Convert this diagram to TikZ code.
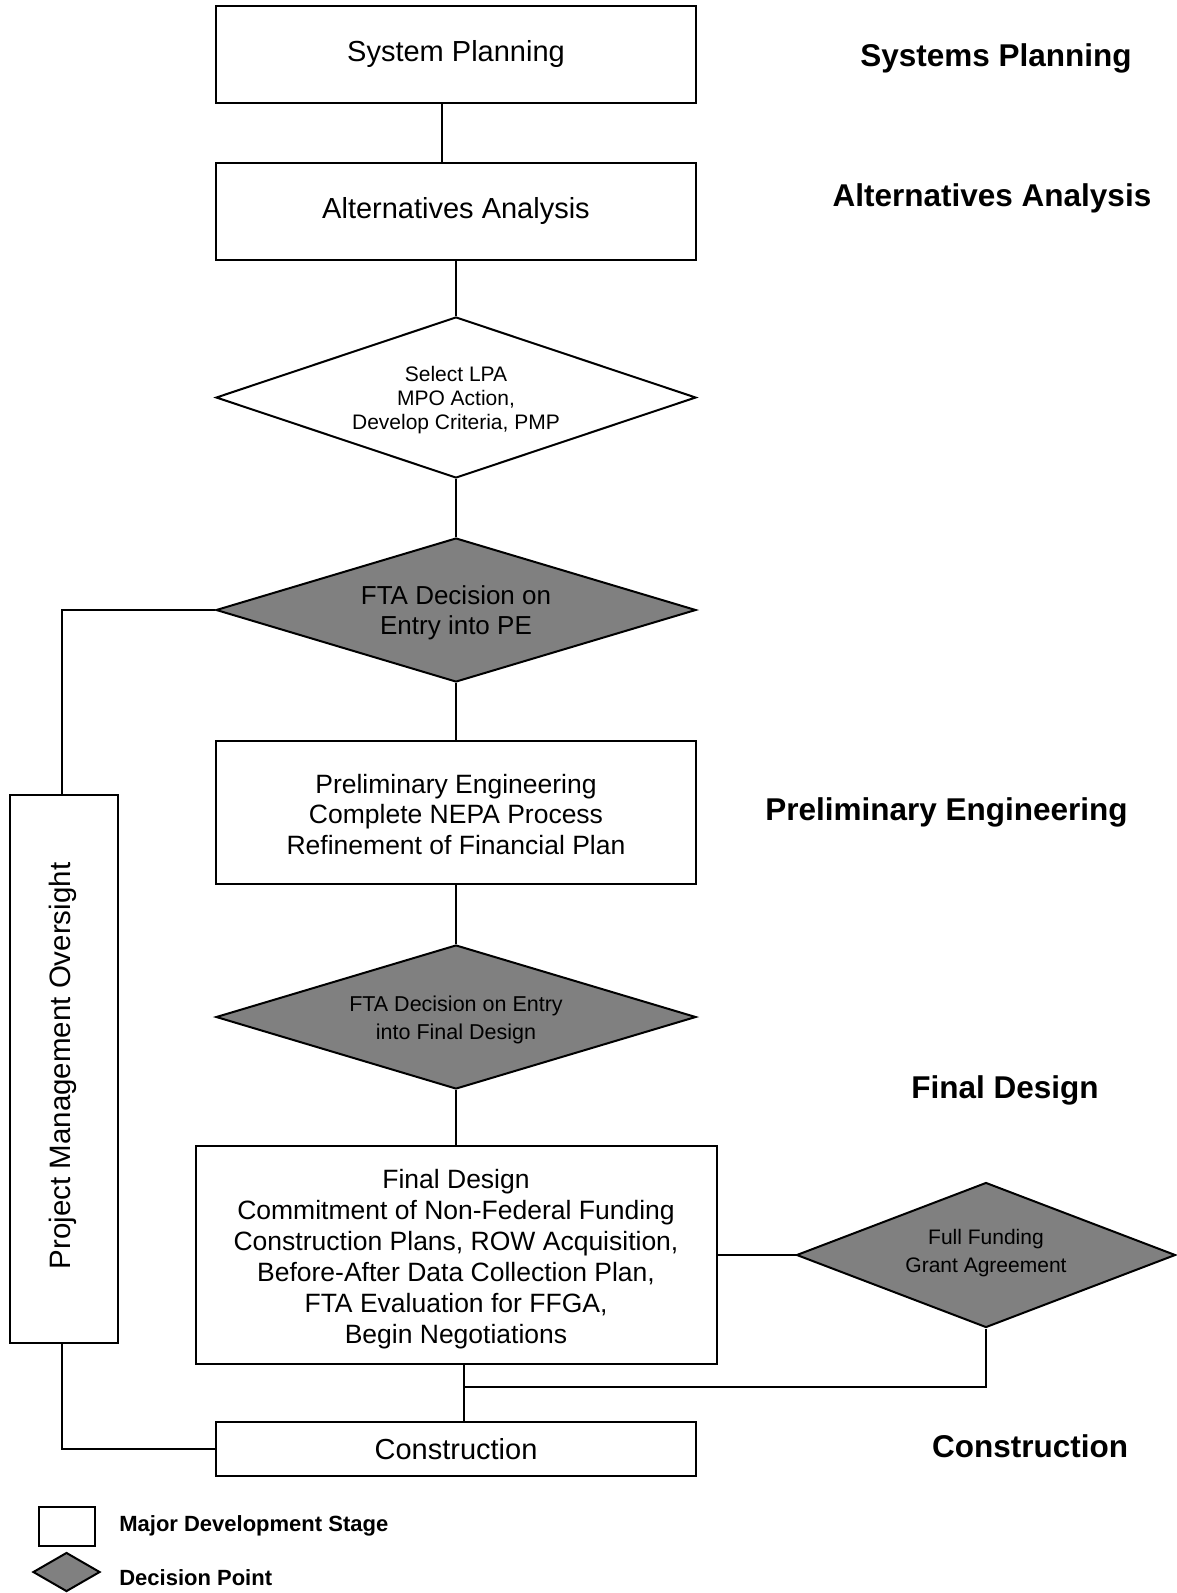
\documentclass[tikz,border=0pt]{standalone}
\usepackage{fontspec}
\setmainfont{Liberation Sans}
\usetikzlibrary{shapes.geometric}
\definecolor{decgray}{RGB}{128,128,128}
\newcommand{\fsz}[2]{\fontsize{#1}{#2}\selectfont}
\begin{document}
\begin{tikzpicture}[x=1pt,y=-1pt,line width=2pt,
  stagebox/.style={draw,rectangle,inner sep=0pt,align=center,minimum width=480pt},
  decnode/.style={draw,diamond,inner sep=0pt,fill=decgray},
  dectext/.style={align=center,inner sep=0pt},
  phase/.style={font=\bfseries\fsz{31.5}{36}},
  legendtext/.style={anchor=base west,font=\bfseries\fsz{22}{26}}]

\useasboundingbox (0,0) rectangle (1177,1593);

% main flow
\node[stagebox,minimum height=97pt,font=\fsz{29}{34}] (sp) at (456,54) {System Planning};
\node[stagebox,minimum height=97pt,font=\fsz{29}{34}] (aa) at (456,211) {Alternatives Analysis};
\node[draw,diamond,inner sep=0pt,minimum width=480pt,minimum height=161pt,fill=white] (d1) at (456,397.5) {};
\node[dectext,font=\fsz{21}{24}] (d1t) at ([yshift=-3pt]d1.center) {Select LPA\\MPO Action,\\Develop Criteria, PMP};
\node[decnode,minimum width=480pt,minimum height=144pt] (d2) at (456,610) {};
\node[dectext,font=\fsz{26}{30.5}] (d2t) at ([yshift=-3pt]d2.center) {FTA Decision on\\Entry into PE};
\node[stagebox,minimum height=142.5pt] (pe) at (456,812.5) {};
\node[dectext,font=\fsz{26.5}{30.5}] (pet) at ([yshift=-2pt]pe.center) {Preliminary Engineering\\Complete NEPA Process\\Refinement of Financial Plan};
\node[decnode,minimum width=480pt,minimum height=144pt] (d3) at (456,1017) {};
\node[dectext,font=\fsz{21.5}{28}] (d3t) at ([yshift=-3pt]d3.center) {FTA Decision on Entry\\into Final Design};
\node[stagebox,minimum width=521pt,minimum height=218.5pt] (fd) at (456,1255) {};
\node[dectext,font=\fsz{26.5}{31}] (fdt) at ([yshift=-4pt]fd.center) {Final Design\\Commitment of Non-Federal Funding\\Construction Plans, ROW Acquisition,\\Before-After Data Collection Plan,\\FTA Evaluation for FFGA,\\Begin Negotiations};
\node[decnode,minimum width=379pt,minimum height=145pt] (ff) at (986,1255) {};
\node[dectext,font=\fsz{21}{28}] (fft) at ([yshift=2pt]ff.center) {Full Funding\\Grant Agreement};
\node[stagebox,minimum height=54pt,font=\fsz{29}{34}] (con) at (456,1449) {Construction};
\node[draw,rectangle,inner sep=0pt,minimum width=108pt,minimum height=548pt] (pmo) at (64,1069) {};
\node[rotate=90,font=\fsz{29.5}{34}] (pmot) at (63,1066) {Project Management Oversight};

% phase labels
\node[phase] (l1) at (996,58) {Systems Planning};
\node[phase] (l2) at (992,198) {Alternatives Analysis};
\node[phase] (l3) at (946.5,812) {Preliminary Engineering};
\node[phase] (l4) at (1005,1090) {Final Design};
\node[phase] (l5) at (1030,1446) {Construction};

% legend
\node[draw,rectangle,inner sep=0pt,minimum width=56pt,minimum height=39pt] (lg1) at (67,1526) {};
\node[decnode,minimum width=67pt,minimum height=39pt] (lg2) at (66.5,1572) {};
\node[legendtext] (lg1t) at (115,1531) {Major Development Stage};
\node[legendtext] (lg2t) at (115,1585) {Decision Point};

% connectors
\draw ([xshift=-14pt]sp.south) -- ([xshift=-14pt]aa.north);
\draw (aa.south) -- (d1.north);
\draw (d1.south) -- (d2.north);
\draw (d2.west) -| ([xshift=-2pt]pmo.north);
\draw (d2.south) -- (pe.north);
\draw (pe.south) -- (d3.north);
\draw (d3.south) -- (fd.north);
\draw (fd.east |- ff.west) -- (ff.west);
\coordinate (j) at (464,1387);
\draw (ff.south) |- (j);
\draw (fd.south -| j) -- (con.north -| j);
\draw ([xshift=-2pt]pmo.south) |- (con.west);
\end{tikzpicture}
\end{document}
